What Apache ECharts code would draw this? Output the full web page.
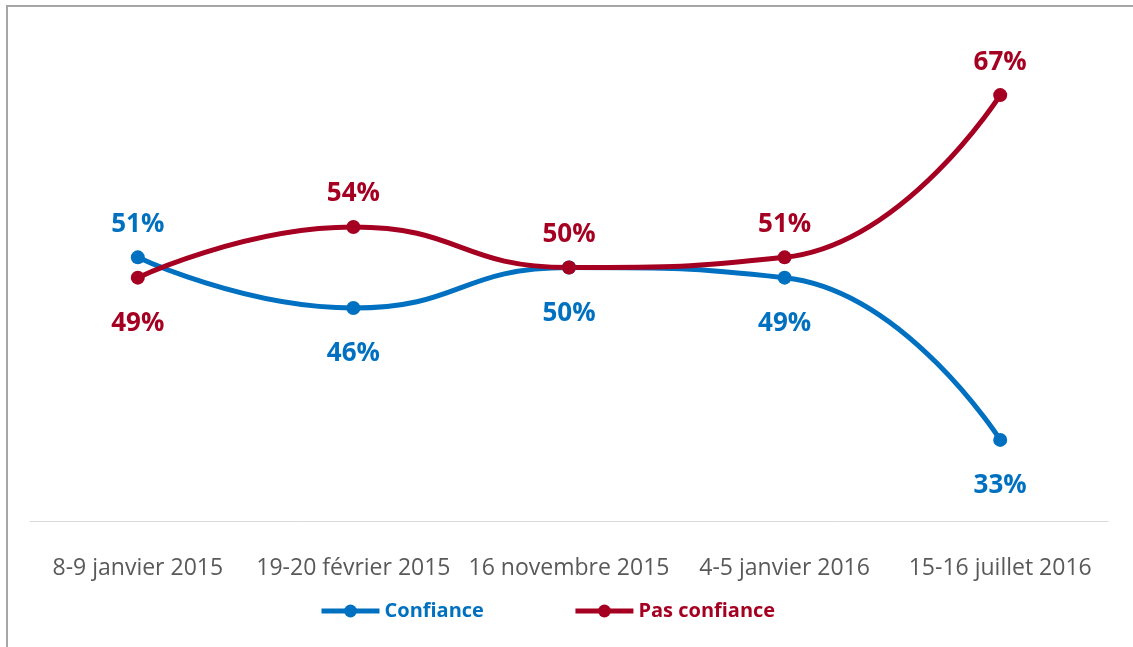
<!DOCTYPE html>
<html>
<head>
<meta charset="utf-8">
<script src="https://cdn.jsdelivr.net/npm/echarts@6/dist/echarts.min.js"></script>
<style>
    html, body { margin: 0; padding: 0; background: #fff; }
    #main { width: 1133px; height: 647px; }
</style>
</head>
<body>
<div id="main"></div>
<script>
// 数据
let categories = ['8-9 janvier 2015', '19-20 février 2015', '16 novembre 2015', '4-5 janvier 2016', '15-16 juillet 2016'];
let confiance = [51, 46, 50, 49, 33];
let pasConfiance = [49, 54, 50, 51, 67];
// 标签位置 (上/下)
let confiancePos = ['top', 'bottom', 'bottom', 'bottom', 'bottom'];
let pasConfiancePos = ['bottom', 'top', 'top', 'top', 'top'];

const BLUE = '#0070C0';
const RED = '#A50021';
const FONT = 'Open Sans';

var myChart = echarts.init(document.getElementById('main'));

function buildData(values, positions) {
    return values.map((v, i) => ({
        value: v,
        label: {
            position: positions[i],
            distance: positions[i] === 'top' ? 13 : 26
        }
    }));
}

function labelStyle(color) {
    return {
        show: true,
        formatter: '{c}%',
        color: color,
        fontFamily: FONT,
        fontSize: 26,
        fontWeight: 'bold'
    };
}

option = {
    animation: false,
    backgroundColor: '#fff',
    graphic: [
        // 外框 (上、左)
        { type: 'line', shape: { x1: 6, y1: 6, x2: 1133, y2: 6 }, style: { stroke: '#a6a6a6', lineWidth: 2 } },
        { type: 'line', shape: { x1: 7, y1: 6, x2: 7, y2: 647 }, style: { stroke: '#a6a6a6', lineWidth: 2 } }
    ],
    grid: {
        left: 30,
        right: 25,
        top: 14,
        bottom: 126
    },
    legend: {
        left: 319,
        top: 601,
        padding: 0,
        itemWidth: 58,
        itemHeight: 16,
        itemGap: 89,
        lineStyle: { width: 5 },
        textStyle: { fontFamily: FONT, fontSize: 20, fontWeight: 'bold' },
        data: [
            { name: 'Confiance', textStyle: { color: BLUE } },
            { name: 'Pas confiance', textStyle: { color: RED } }
        ]
    },
    xAxis: {
        type: 'category',
        data: categories,
        boundaryGap: true,
        axisLine: { lineStyle: { color: '#d9d9d9', width: 1 } },
        axisTick: { show: false },
        axisLabel: {
            color: '#595959',
            fontFamily: FONT,
            fontSize: 23,
            margin: 36,
            interval: 0
        }
    },
    yAxis: {
        type: 'value',
        min: 25,
        max: 75,
        show: false,
        splitLine: { show: false }
    },
    series: [
        {
            name: 'Confiance',
            type: 'line',
            smooth: 0.5,
            data: buildData(confiance, confiancePos),
            symbol: 'circle',
            symbolSize: 14,
            lineStyle: { color: BLUE, width: 5 },
            itemStyle: { color: BLUE },
            label: labelStyle(BLUE)
        },
        {
            name: 'Pas confiance',
            type: 'line',
            smooth: 0.5,
            data: buildData(pasConfiance, pasConfiancePos),
            symbol: 'circle',
            symbolSize: 14,
            lineStyle: { color: RED, width: 5 },
            itemStyle: { color: RED },
            label: labelStyle(RED)
        }
    ]
};
myChart.setOption(option);
</script>
</body>
</html>
